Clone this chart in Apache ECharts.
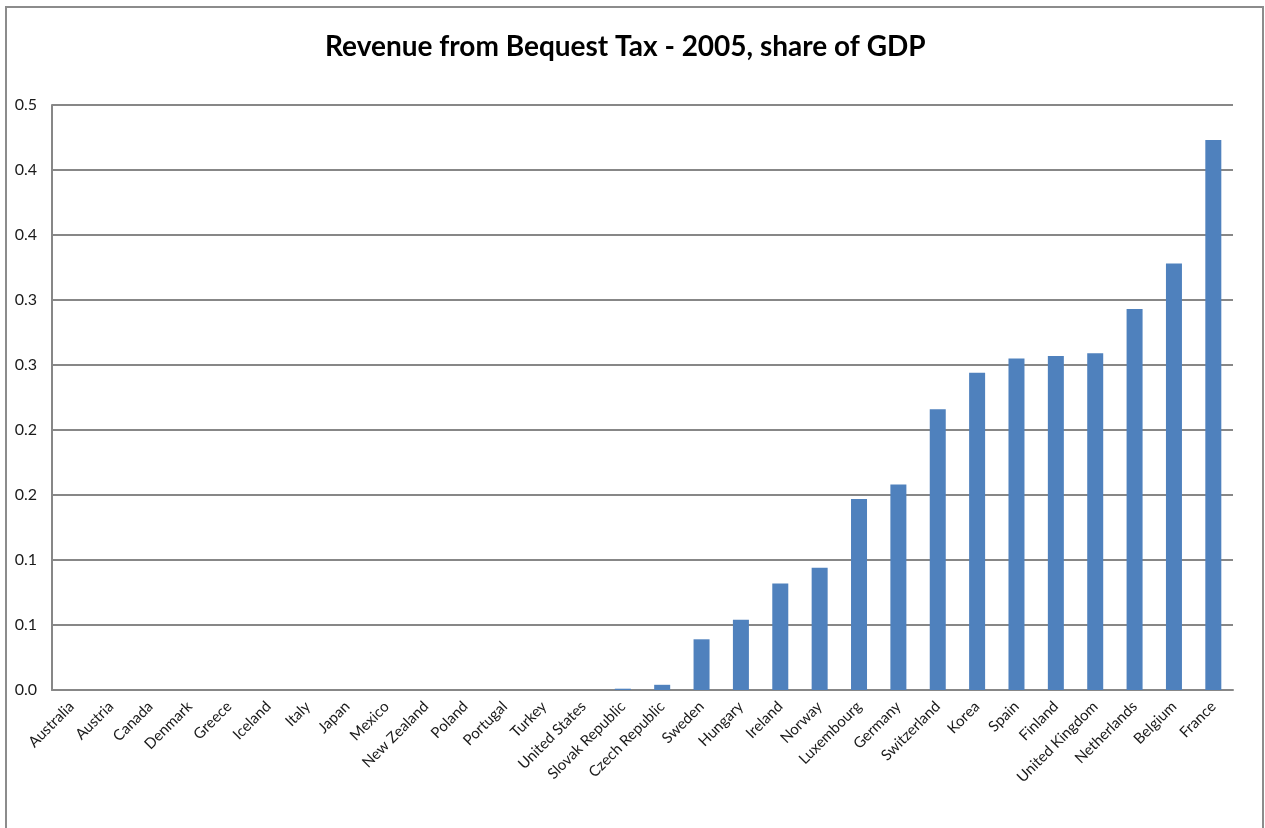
<!DOCTYPE html>
<html>
<head>
<meta charset="utf-8">
<title>Revenue from Bequest Tax - 2005, share of GDP</title>
<script src="https://cdn.jsdelivr.net/npm/echarts@6/dist/echarts.min.js"></script>
<style>
  html, body { margin: 0; padding: 0; background: #ffffff; }
  #chart { width: 1265px; height: 828px; }
</style>
</head>
<body>
<div id="chart"></div>
<script>
// OECD countries, ordered by bequest tax revenue (share of GDP, 2005)
const countries = [
  'Australia', 'Austria', 'Canada', 'Denmark', 'Greece', 'Iceland', 'Italy',
  'Japan', 'Mexico', 'New Zealand', 'Poland', 'Portugal', 'Turkey',
  'United States', 'Slovak Republic', 'Czech Republic', 'Sweden', 'Hungary',
  'Ireland', 'Norway', 'Luxembourg', 'Germany', 'Switzerland', 'Korea',
  'Spain', 'Finland', 'United Kingdom', 'Netherlands', 'Belgium', 'France'
];

const revenueShare = [
  0, 0, 0, 0, 0, 0, 0,
  0, 0, 0, 0, 0, 0,
  0, 0.001, 0.004, 0.039, 0.054,
  0.082, 0.094, 0.147, 0.158, 0.216, 0.244,
  0.255, 0.257, 0.259, 0.293, 0.328, 0.423
];

// y-axis steps of 0.05, printed with one decimal
const yTickLabels = ['0.0', '0.1', '0.1', '0.2', '0.2', '0.3', '0.3', '0.4', '0.4', '0.5'];

const FONT = 'Lato, "Open Sans", "Liberation Sans", sans-serif';
const GRID_GRAY = '#878787';

const chart = echarts.init(document.getElementById('chart'), null, { renderer: 'canvas' });

chart.setOption({
  backgroundColor: '#ffffff',
  animation: false,
  title: {
    text: 'Revenue from Bequest Tax - 2005, share of GDP',
    left: 320,
    top: 28,
    textStyle: {
      fontFamily: FONT,
      fontSize: 28,
      fontWeight: 'bold',
      color: '#000000'
    }
  },
  graphic: [{
    type: 'rect',
    shape: { x: 6, y: 7, width: 1257, height: 900 },
    style: { fill: 'none', stroke: '#8c8c8c', lineWidth: 2 },
    silent: true,
    z: -1
  }],
  grid: {
    left: 52,
    right: 32,
    top: 105,
    bottom: 138,
    containLabel: false
  },
  xAxis: {
    type: 'category',
    data: countries,
    axisLine: { show: true, lineStyle: { color: GRID_GRAY, width: 2 } },
    axisTick: { show: false },
    axisLabel: {
      interval: 0,
      rotate: 45,
      margin: 14,
      fontFamily: FONT,
      fontSize: 15,
      color: '#1a1a1a'
    }
  },
  yAxis: {
    type: 'value',
    min: 0,
    max: 0.45,
    interval: 0.05,
    axisLine: { show: true, lineStyle: { color: GRID_GRAY, width: 2 } },
    axisTick: { show: false },
    splitLine: { show: true, lineStyle: { color: GRID_GRAY, width: 2 } },
    axisLabel: {
      margin: 15,
      fontFamily: FONT,
      fontSize: 16,
      color: '#1a1a1a',
      formatter: function (v) {
        return yTickLabels[Math.round(v / 0.05)];
      }
    }
  },
  series: [{
    type: 'bar',
    data: revenueShare,
    barWidth: 16,
    itemStyle: {
      color: '#4f81bd'
    }
  }]
});
</script>
</body>
</html>
